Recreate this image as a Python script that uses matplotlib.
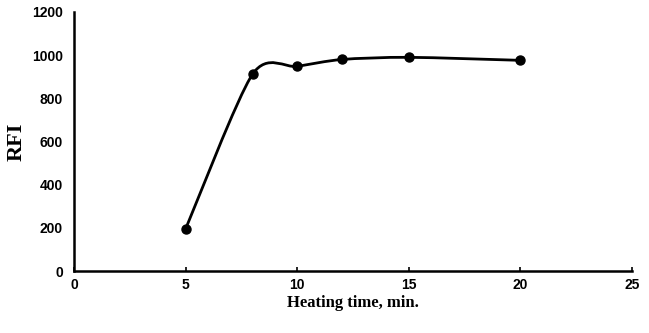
import matplotlib
matplotlib.use("Agg")
import matplotlib.pyplot as plt
import numpy as np
from matplotlib.path import Path
from matplotlib.patches import PathPatch

# data
heating_time = [5, 8, 10, 12, 15, 20]
rfi = [195, 912, 948, 980, 990, 976]

x_ticks = [0, 5, 10, 15, 20, 25]
y_ticks = [0, 200, 400, 600, 800, 1000, 1200]

fig = plt.figure(figsize=(6.49, 3.33), dpi=100)
ax = fig.add_axes([0.114, 0.186, 0.86, 0.778])
ax.set_xlim(0, 25)
ax.set_ylim(0, 1200)

# smoothed line (catmull-rom style bezier, slightly tighter than default)
k = 0.8 / 6.0
pts = np.column_stack([heating_time, rfi]).astype(float)
n = len(pts)
verts = [pts[0]]
codes = [Path.MOVETO]
for i in range(n - 1):
    a, b = max(i - 1, 0), min(i + 2, n - 1)
    c1 = pts[i] + (pts[i + 1] - pts[a]) * k
    c2 = pts[i + 1] - (pts[b] - pts[i]) * k
    verts += [c1, c2, pts[i + 1]]
    codes += [Path.CURVE4] * 3
curve = PathPatch(Path(verts, codes), facecolor="none", edgecolor="black",
                  lw=2.0, transform=ax.transData, capstyle="round")
ax.add_patch(curve)
ax.plot(heating_time, rfi, linestyle="none", marker="o", color="black",
        markersize=6.5, zorder=3)

ax.set_xticks(x_ticks)
ax.set_yticks(y_ticks)

tick_font = {"family": "Liberation Sans", "weight": "bold", "size": 10}
ax.set_xticklabels([str(t) for t in x_ticks], fontdict=tick_font)
ax.set_yticklabels([str(t) for t in y_ticks], fontdict=tick_font)

ax.set_xlabel("Heating time, min.", family="Liberation Serif", weight="bold",
              fontsize=12, labelpad=2)
ax.set_ylabel("RFI", family="Liberation Serif", weight="bold",
              fontsize=16, labelpad=4)

for s in ["top", "right"]:
    ax.spines[s].set_visible(False)
for s in ["left", "bottom"]:
    ax.spines[s].set_linewidth(1.8)
ax.tick_params(axis="x", direction="in", length=3, width=1.2, pad=5)
ax.tick_params(axis="y", length=0, pad=8)

fig.savefig("out.png", dpi=100)
